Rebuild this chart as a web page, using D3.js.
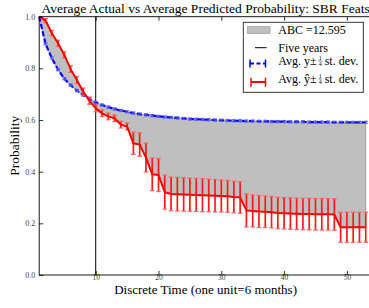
<!DOCTYPE html>
<html><head><meta charset="utf-8">
<script src="https://cdn.jsdelivr.net/npm/d3@7"></script>
<style>
html,body{margin:0;padding:0;background:#fff;overflow:hidden;}
svg{display:block;}
</style></head>
<body><svg id="c" width="369" height="308"></svg>
<script>
const times = d3.range(1, 54);
const actualMean = [1.000,0.895,0.840,0.795,0.760,0.735,0.714,0.697,0.682,0.668,
  0.658,0.650,0.643,0.637,0.632,0.627,0.623,0.620,0.617,0.614,
  0.612,0.610,0.608,0.606,0.604,0.603,0.602,0.601,0.600,0.599,
  0.598,0.597,0.597,0.596,0.596,0.595,0.595,0.594,0.594,0.594,
  0.593,0.593,0.593,0.592,0.592,0.592,0.592,0.591,0.591,0.591,
  0.591,0.591,0.591];
const actualErr = [0.000,0.004,0.004,0.004,0.004,0.004,0.004,0.004,0.004,0.004,
  0.004,0.004,0.004,0.004,0.004,0.004,0.004,0.004,0.004,0.004,
  0.004,0.004,0.004,0.004,0.004,0.004,0.004,0.004,0.004,0.004,
  0.004,0.004,0.004,0.004,0.004,0.004,0.004,0.004,0.004,0.004,
  0.004,0.004,0.004,0.004,0.004,0.004,0.004,0.004,0.004,0.004,
  0.004,0.004,0.004];
const predMean = [1.000,0.985,0.937,0.897,0.852,0.797,0.755,0.710,0.675,0.645,
  0.626,0.614,0.607,0.582,0.575,0.510,0.505,0.455,0.390,0.387,
  0.321,0.314,0.313,0.312,0.311,0.310,0.309,0.308,0.307,0.306,
  0.305,0.302,0.300,0.250,0.248,0.246,0.245,0.243,0.240,0.239,
  0.238,0.237,0.236,0.236,0.235,0.235,0.235,0.234,0.185,0.185,
  0.185,0.185,0.185];
const predErr = [0.000,0.008,0.010,0.012,0.012,0.013,0.014,0.014,0.014,0.013,
  0.013,0.013,0.013,0.013,0.013,0.043,0.045,0.056,0.063,0.064,
  0.066,0.065,0.065,0.065,0.064,0.064,0.064,0.063,0.063,0.062,
  0.062,0.061,0.061,0.064,0.062,0.062,0.061,0.061,0.061,0.061,
  0.061,0.061,0.061,0.061,0.061,0.061,0.061,0.061,0.058,0.058,
  0.058,0.058,0.058];
const xTicks = [10,20,30,40,50];
const yTicks = [0.0,0.2,0.4,0.6,0.8,1.0];
const fiveYears = 10;
const abcValue = "12.595";
const titleText = "Average Actual vs Average Predicted Probability: SBR Feats";
const xLabel = "Discrete Time (one unit=6 months)";
const yLabel = "Probability";

const FONT = "Liberation Serif, Times New Roman, serif";
const svg = d3.select("#c");
const L = 39.2, R = 372.0, T = 16.7, B = 275;
const x = d3.scaleLinear().domain([1,54]).range([L,R]);
const y = d3.scaleLinear().domain([0,1]).range([B,T]);

const data = times.map((t,i)=>({t, a:actualMean[i], ae:actualErr[i], p:predMean[i], pe:predErr[i]}));

// fill between
svg.append("path").datum(data)
  .attr("d", d3.area().x(d=>x(d.t)).y0(d=>y(d.a)).y1(d=>y(d.p)))
  .attr("fill","#bfbfbf").attr("stroke","#8f8f8f").attr("stroke-width",0.8);

// five-year line
svg.append("line").attr("x1",x(fiveYears)).attr("x2",x(fiveYears))
  .attr("y1",T).attr("y2",B).attr("stroke","#000").attr("stroke-width",1);

function errorbars(key, ekey, color, capColor, sw, cap){
  const g = svg.append("g");
  data.forEach(d=>{
    if (d[ekey] <= 0) return;
    const cx = x(d.t), y1 = y(d[key]+d[ekey]), y2 = y(d[key]-d[ekey]);
    g.append("line").attr("x1",cx).attr("x2",cx).attr("y1",y1).attr("y2",y2)
      .attr("stroke",color).attr("stroke-width",sw);
    [y1,y2].forEach(yy=>g.append("line").attr("x1",cx-cap).attr("x2",cx+cap)
      .attr("y1",yy).attr("y2",yy).attr("stroke",capColor).attr("stroke-width",1.2));
  });
}

// blue actual
svg.append("path").datum(data)
  .attr("d", d3.line().x(d=>x(d.t)).y(d=>y(d.a)))
  .attr("fill","none").attr("stroke","#0000ff").attr("stroke-width",2.2)
  .attr("stroke-dasharray","5,2.5");
errorbars("a","ae","#2a2aff","#5a5aff",1.2,2);

// red predicted
errorbars("p","pe","#ff1a1a","#ff6060",1.7,2.3);
svg.append("path").datum(data)
  .attr("d", d3.line().x(d=>x(d.t)).y(d=>y(d.p)))
  .attr("fill","none").attr("stroke","#ff0000").attr("stroke-width",2);

// axes
const ax = svg.append("g").attr("transform",`translate(0,${B})`)
  .call(d3.axisBottom(x).tickValues(xTicks).tickSize(-4).tickPadding(0).tickFormat(d3.format("d")));
const axT = svg.append("g").attr("transform",`translate(0,${T})`)
  .call(d3.axisTop(x).tickValues(xTicks).tickSize(-4).tickFormat(""));
const ay = svg.append("g").attr("transform",`translate(${L},0)`)
  .call(d3.axisLeft(y).tickValues(yTicks).tickSize(-4).tickPadding(4).tickFormat(d3.format(".1f")));
[ax,axT,ay].forEach(g=>{
  g.select(".domain").remove();
  g.selectAll(".tick line").attr("stroke","#000").attr("stroke-width",0.8);
  g.selectAll("text").attr("font-family",FONT).attr("font-size",8).attr("fill","#444");
});
ax.selectAll("text").attr("font-size",7.5).attr("dy","0.7em");

svg.append("rect").attr("x",L).attr("y",T).attr("width",R-L).attr("height",B-T)
  .attr("fill","none").attr("stroke","#000").attr("stroke-width",0.9);

// title & labels
svg.append("text").attr("x",(L+R)/2).attr("y",12.5).attr("text-anchor","middle")
  .attr("font-family",FONT).attr("font-size",13.5).attr("fill","#000").text(titleText);
svg.append("text").attr("x",(L+R)/2).attr("y",293.6).attr("text-anchor","middle")
  .attr("font-family",FONT).attr("font-size",13).attr("fill","#000").text(xLabel);
svg.append("text").attr("transform",`translate(19,${(T+B)/2}) rotate(-90)`)
  .attr("text-anchor","middle").attr("font-family",FONT).attr("font-size",13.5).attr("fill","#000").text(yLabel);

// legend
const lg = svg.append("g").attr("font-family",FONT);
lg.append("rect").attr("x",243.3).attr("y",22.3).attr("width",120).attr("height",70)
  .attr("fill","#fff").attr("stroke","#222").attr("stroke-width",0.9);
lg.append("rect").attr("x",247.5).attr("y",26.7).attr("width",22.5).attr("height",6.8)
  .attr("fill","#bfbfbf").attr("stroke","#8f8f8f").attr("stroke-width",0.6);
lg.append("line").attr("x1",255).attr("x2",266.5).attr("y1",47.7).attr("y2",47.7)
  .attr("stroke","#000").attr("stroke-width",1);
// blue handle
lg.append("line").attr("x1",250).attr("x2",265.5).attr("y1",63.5).attr("y2",63.5)
  .attr("stroke","#0000ff").attr("stroke-width",2).attr("stroke-dasharray","4,2.5");
[250,265.5].forEach(xx=>lg.append("line").attr("x1",xx).attr("x2",xx).attr("y1",59.5).attr("y2",67.5)
  .attr("stroke","#0000ff").attr("stroke-width",1.5));
// red handle
lg.append("line").attr("x1",251).attr("x2",265.5).attr("y1",82).attr("y2",82)
  .attr("stroke","#ff0000").attr("stroke-width",2);
[251,265.5].forEach(xx=>lg.append("line").attr("x1",xx).attr("x2",xx).attr("y1",77.7).attr("y2",86.7)
  .attr("stroke","#ff0000").attr("stroke-width",1.5));

const fs = 12;
lg.append("text").attr("x",278.3).attr("y",34).attr("font-size",fs).text("ABC =" + abcValue);
lg.append("text").attr("x",278.3).attr("y",51.5).attr("font-size",fs).text("Five years");
function fracRow(prefix, yb){
  const t1 = lg.append("text").attr("x",278.3).attr("y",yb).attr("font-size",fs).text(prefix);
  const w = t1.node().getComputedTextLength();
  const fx = 278.3 + w + 3.5;
  lg.append("text").attr("x",fx).attr("y",yb-5.4).attr("font-size",6).attr("text-anchor","middle").text("1");
  lg.append("line").attr("x1",fx-1.8).attr("x2",fx+1.8).attr("y1",yb-4).attr("y2",yb-4)
    .attr("stroke","#000").attr("stroke-width",0.5);
  lg.append("text").attr("x",fx).attr("y",yb+1.4).attr("font-size",6).attr("text-anchor","middle").text("4");
  lg.append("text").attr("x",fx+4.5).attr("y",yb).attr("font-size",fs).text("st. dev.");
}
fracRow("Avg. y\u00b1", 65);
fracRow("Avg. \u0177\u00b1", 83);
</script></body></html>
